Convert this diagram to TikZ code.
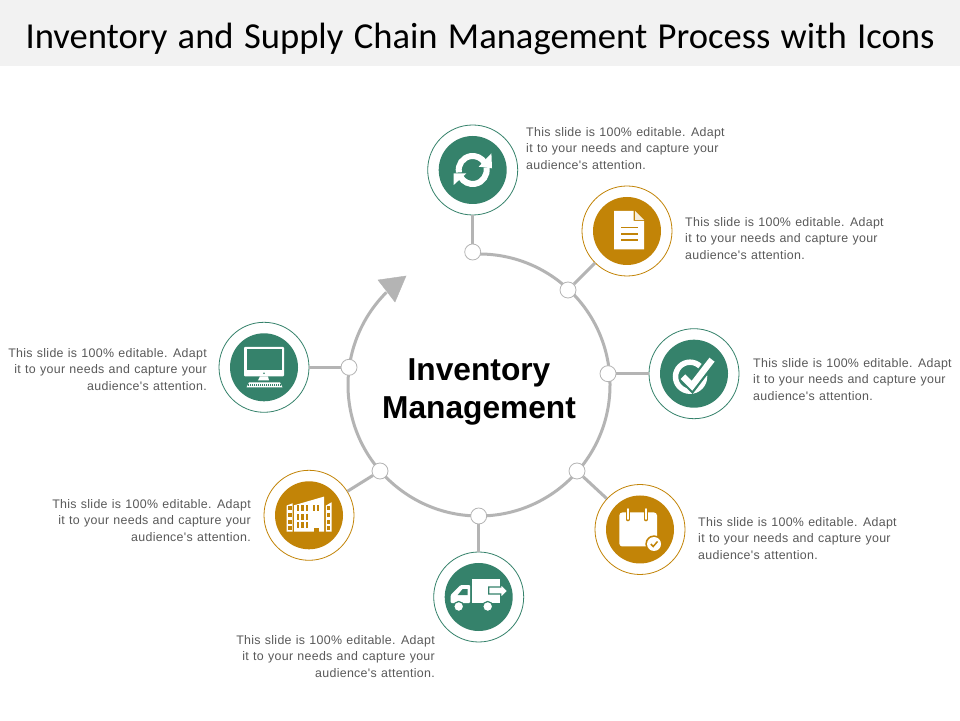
\documentclass[tikz,border=0pt]{standalone}
\usepackage{fontspec}
\setmainfont{Liberation Sans}
\newfontfamily\titlefont[WordSpace=1.25]{Carlito}
\newfontfamily\bodyfont[WordSpace=1.15,LetterSpace=2.4]{Liberation Sans}
\definecolor{iconGreen}{HTML}{35826B}
\definecolor{iconGold}{HTML}{C28407}
\definecolor{ringGray}{HTML}{B4B4B4}
\definecolor{bodyGray}{HTML}{595959}
\definecolor{bandGray}{HTML}{F2F2F2}
\tikzset{
    outerGreen/.style={circle, draw=iconGreen, fill=white, line width=0.8pt, minimum size=90pt, inner sep=0pt},
    outerGold/.style={circle, draw=iconGold, fill=white, line width=0.8pt, minimum size=90pt, inner sep=0pt},
    innerGreen/.style={circle, fill=iconGreen, minimum size=68pt, inner sep=0pt},
    innerGold/.style={circle, fill=iconGold, minimum size=68pt, inner sep=0pt},
    joint/.style={circle, draw=ringGray, fill=white, line width=0.8pt, minimum size=16pt, inner sep=0pt},
    link/.style={ringGray, line width=3pt},
    blurbLeft/.style={anchor=west, align=left, inner sep=0pt, text=bodyGray, font=\bodyfont\fontsize{12.4}{16.4}\selectfont},
    blurbRight/.style={anchor=east, align=right, inner sep=0pt, text=bodyGray, font=\bodyfont\fontsize{12.4}{16.4}\selectfont}
}
\newcommand{\blurbtext}{This slide is 100\% editable. Adapt\\it to your needs and capture your\\audience's attention.}
\begin{document}
\begin{tikzpicture}[x=1pt, y=1pt]
    \useasboundingbox (0,0) rectangle (960,720);
    \fill[white] (0,0) rectangle (960,720);
    \fill[bandGray] (0,654) rectangle (960,720);
    \node[font=\titlefont\fontsize{36.6}{40}\selectfont, text=black, inner sep=0pt] (title) at (480,681.5) {Inventory and Supply Chain Management Process with Icons};

    % ring and arrow head
    \coordinate (ringc) at (479,335);
    \draw[link] ([shift={(92:131)}]ringc) arc (92:-225:131);
    \filldraw[ringGray] (406,444) -- (378,440) -- (395,418) -- cycle;
    \node[font=\bfseries\fontsize{31.7}{38}\selectfont, align=center, inner sep=0pt] (centre) at (479,328.5) {Inventory\\Management};

    % circles round the ring
    \node[outerGreen] (refresh) at (472.7,550) {};
    \node[outerGold] (doc) at (627,489) {};
    \node[outerGreen] (check) at (694,346.3) {};
    \node[outerGold] (cal) at (640,190.5) {};
    \node[outerGreen] (truck) at (478.7,123) {};
    \node[outerGold] (build) at (309,204.7) {};
    \node[outerGreen] (screen) at (264,352.7) {};

    \node[innerGreen] (refreshIn) at (refresh) {};
    \node[innerGold] (docIn) at (doc) {};
    \node[innerGreen] (checkIn) at (check) {};
    \node[innerGold] (calIn) at (cal) {};
    \node[innerGreen] (truckIn) at (truck) {};
    \node[innerGold] (buildIn) at (build) {};
    \node[innerGreen] (screenIn) at (screen) {};

    % joints on the ring
    \node[joint] (j1) at (472.7,468) {};
    \node[joint] (j2) at (568,430) {};
    \node[joint] (j3) at (608,346.3) {};
    \node[joint] (j4) at (577,249) {};
    \node[joint] (j5) at (478.7,204) {};
    \node[joint] (j6) at (380,249) {};
    \node[joint] (j7) at (349,352.7) {};

    \draw[link] (refresh) -- (j1);
    \draw[link] (doc) -- (j2);
    \draw[link] (check) -- (j3);
    \draw[link] (cal) -- (j4);
    \draw[link] (truck) -- (j5);
    \draw[link] (build) -- (j6);
    \draw[link] (screen) -- (j7);

    % refresh icon
    \begin{scope}[shift={(refresh)}]
        \draw[white, line width=6pt] (190:14) arc (190:30:14);
        \draw[white, line width=6pt] (10:14) arc (10:-150:14);
        \fill[white] (18.7,16.7) -- (19.3,1.7) -- (6,3.3) -- cycle;
        \fill[white] (-19,-15) -- (-19,-3.3) -- (-6.3,-3.3) -- cycle;
    \end{scope}

    % document icon
    \begin{scope}[shift={(doc)}]
        \fill[white] (-13,20) -- (6.5,20) -- (6.5,10) -- (17,10) -- (17,-18.5) -- (-13,-18.5) -- cycle;
        \fill[white!85!iconGold] (8,20) -- (17,11) -- (8,11) -- cycle;
        \draw[iconGold, line width=1.2pt] (-6,3.3) -- (10.5,3.3);
        \draw[iconGold, line width=1.2pt] (-6,-3) -- (10.5,-3);
        \draw[iconGold, line width=1.2pt] (-6,-9) -- (10.5,-9);
    \end{scope}

    % check icon
    \begin{scope}[shift={(check)}]
        \draw[white, line width=5.5pt] (-4,-3) circle (14.5);
        \draw[iconGreen, line width=11pt] (-11,-3) -- (-2,-12) -- (18,14);
        \draw[white, line width=6.5pt] (-11,-3) -- (-2,-12) -- (18,14);
    \end{scope}

    % calendar icon
    \begin{scope}[shift={(cal)}]
        \fill[white, rounded corners=3pt] (-20.7,17) rectangle (17,-17);
        \draw[iconGold, line width=3.6pt, line cap=round] (-12.3,20) -- (-12.3,10);
        \draw[iconGold, line width=3.6pt, line cap=round] (6,20) -- (6,10);
        \draw[white, line width=1.6pt, line cap=round] (-12.3,20.5) -- (-12.3,10.5);
        \draw[white, line width=1.6pt, line cap=round] (6,20.5) -- (6,10.5);
        \fill[iconGold] (14,-14.5) circle (8.7);
        \fill[white] (14,-14.5) circle (7);
        \draw[iconGold, line width=1.5pt] (10.8,-14.5) -- (13.2,-17) -- (17.5,-12);
    \end{scope}

    % truck icon
    \begin{scope}[shift={(truck)}]
        \fill[white, rounded corners=1pt] (-28,-6) -- (-28,2) -- (-18,12) -- (-8.5,12) -- (-8.5,-6) -- cycle;
        \fill[white] (-7,18) -- (21,18) -- (21,-6) -- (-7,-6) -- cycle;
        \fill[iconGreen] (-21,2) -- (-16,8) -- (-11,8) -- (-11,2) -- cycle;
        \filldraw[fill=white, draw=iconGreen, line width=1.2pt] (10,10) -- (22,10) -- (22,13) -- (29,6) -- (22,-1) -- (22,3) -- (10,3) -- cycle;
        \filldraw[fill=white, draw=iconGreen, line width=1.2pt] (-20,-9.5) circle (5);
        \filldraw[fill=white, draw=iconGreen, line width=1.2pt] (9,-9.5) circle (5);
    \end{scope}

    % building icon
    \begin{scope}[shift={(build)}]
        \fill[white] (-15,10) -- (15,18.7) -- (15,-16.3) -- (-15,-16.3) -- cycle;
        \fill[white] (-22.5,9.7) -- (-16.5,12) -- (-16.5,-16.3) -- (-22.5,-16.3) -- cycle;
        \fill[white] (16.8,9.7) -- (22.5,13) -- (22.5,-16.3) -- (16.8,-16.3) -- cycle;
        \foreach \wx in {-11,-6.5,-2} \foreach \wy in {7.5,-1.5,-10} \fill[iconGold] (\wx-1.2,\wy-3) rectangle (\wx+1.2,\wy+3);
        \foreach \wx in {4.8,9.2} \fill[iconGold] (\wx-1.2,4.5) rectangle (\wx+1.2,10.5);
        \fill[iconGold] (4.8,-16.3) rectangle (9.5,-12.5);
        \foreach \wy in {7.7,0.3,-6.3,-13} \fill[iconGold] (-21.5,\wy-2) rectangle (-17.5,\wy+2);
        \foreach \wy in {7.7,0.3,-6.3,-13} \fill[iconGold] (17.7,\wy-2) rectangle (21.3,\wy+2);
    \end{scope}

    % monitor icon
    \begin{scope}[shift={(screen)}]
        \fill[white, rounded corners=1pt] (-20,20.5) rectangle (20,-9);
        \fill[iconGreen] (-17.5,18.5) rectangle (18,-3);
        \fill[iconGreen] (0,-6) circle (0.9);
        \fill[white] (-4,-9) -- (4,-9) -- (5,-13) -- (-6,-13) -- cycle;
        \fill[white] (-15,-15) -- (16,-15) -- (18.5,-20) -- (-17.5,-20) -- cycle;
        \draw[iconGreen, line width=0.5pt, dash pattern=on 1pt off 1pt] (-16,-16.6) -- (17,-16.6);
        \draw[iconGreen, line width=0.5pt, dash pattern=on 1pt off 1pt] (-16.5,-18.3) -- (17.5,-18.3);
    \end{scope}

    % texts
    \node[blurbLeft] (t1) at (526,571.5) {\blurbtext};
    \node[blurbLeft] (t2) at (685,481.5) {\blurbtext};
    \node[blurbLeft] (t3) at (753,340.5) {\blurbtext};
    \node[blurbLeft] (t4) at (698,181.5) {\blurbtext};
    \node[blurbRight] (t5) at (435,63.5) {\blurbtext};
    \node[blurbRight] (t6) at (251,199.5) {\blurbtext};
    \node[blurbRight] (t7) at (207,350.5) {\blurbtext};
\end{tikzpicture}
\end{document}
